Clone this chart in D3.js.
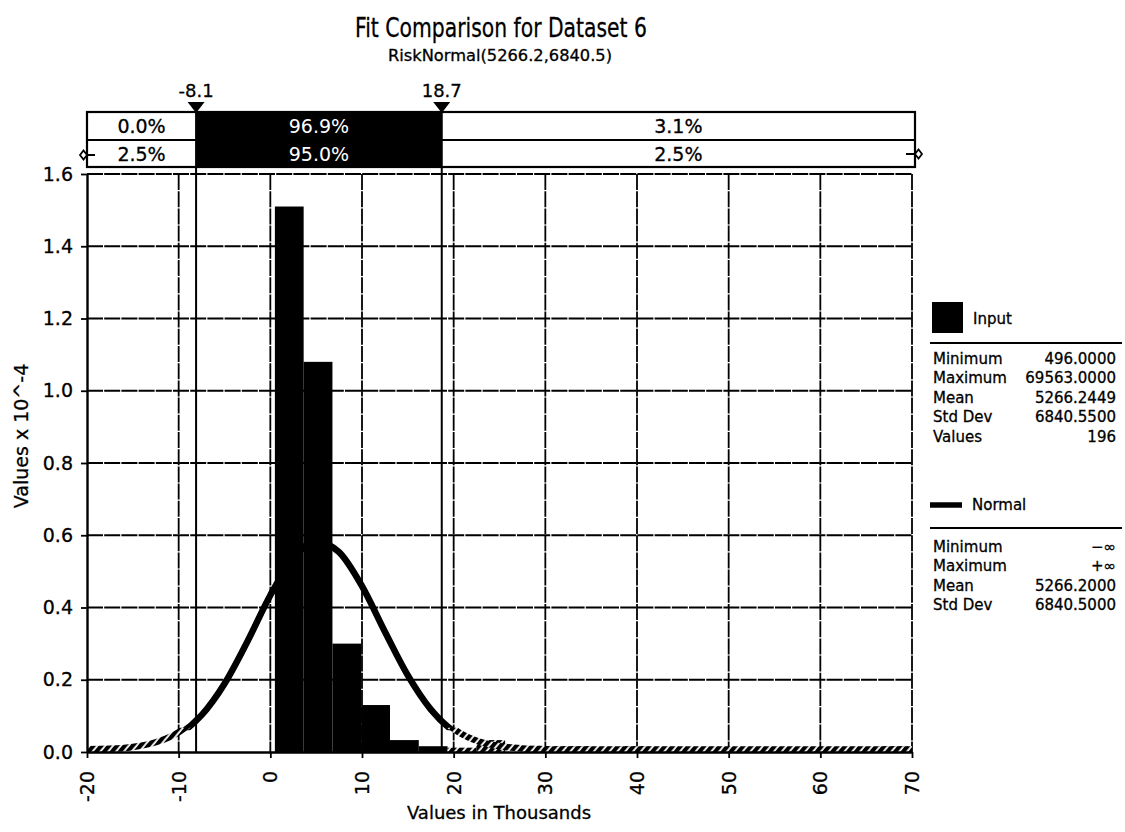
<!DOCTYPE html>
<html>
<head>
<meta charset="utf-8">
<script src="https://cdn.jsdelivr.net/npm/d3@7"></script>
<style>
  body { margin: 0; background: #fff; }
  text { font-family: "DejaVu Sans", Verdana, sans-serif; fill: #000; stroke: #000; stroke-width: 0.3px; }
</style>
</head>
<body>
<div id="chart"></div>
<script>
// histogram of the input (values in thousands, density x 10^-4)
var binEdges = [0.496, 3.635, 6.775, 9.914, 13.054, 16.193, 19.332, 22.472, 25.611, 28.750,
                31.890, 35.029, 38.168, 41.308, 44.447, 47.586, 50.726, 53.865, 57.004,
                60.144, 63.283, 66.423, 69.563];
var binValues = [1.51, 1.08, 0.30, 0.13, 0.033, 0.016, 0.012, 0.033, 0, 0.016, 0.016,
                 0, 0.016, 0, 0, 0, 0, 0, 0, 0, 0, 0.016];

// fitted normal curve
var normX = [-20, -17.5, -15, -12.5, -10, -7.5, -5, -2.5, 0, 2.5, 5, 7.5, 10, 12.5, 15, 17.5,
             20, 22.5, 25, 27.5, 30, 32.5, 35, 37.5, 40, 42.5, 45, 47.5, 50, 52.5, 55, 57.5,
             60, 62.5, 65, 67.5, 70];
var normY = [0.001, 0.002, 0.007, 0.020, 0.048, 0.102, 0.189, 0.306, 0.434, 0.537, 0.583,
             0.553, 0.459, 0.333, 0.212, 0.118, 0.057, 0.024, 0.009, 0.003, 0.001, 0, 0, 0,
             0, 0, 0, 0, 0, 0, 0, 0, 0, 0, 0, 0, 0];

var xTicks = [-20, -10, 0, 10, 20, 30, 40, 50, 60, 70];
var yTicks = [0, 0.2, 0.4, 0.6, 0.8, 1.0, 1.2, 1.4, 1.6];

// delimiters and the percentages in the bar above the plot
var delimiters = [-8.1, 18.7];
var delimLabels = ["-8.1", "18.7"];
var fitPct = ["0.0%", "96.9%", "3.1%"];
var inputPct = ["2.5%", "95.0%", "2.5%"];

var inputStats = [["Minimum", "496.0000"], ["Maximum", "69563.0000"], ["Mean", "5266.2449"],
                  ["Std Dev", "6840.5500"], ["Values", "196"]];
var normalStats = [["Minimum", "\u2212\u221E"], ["Maximum", "+\u221E"], ["Mean", "5266.2000"],
                   ["Std Dev", "6840.5000"]];

var W = 1125, H = 832;
var margin = {top: 174, left: 87, right: 213, bottom: 80};
var width = W - margin.left - margin.right,
    height = H - margin.top - margin.bottom;

var svg = d3.select("#chart").append("svg")
    .attr("width", W)
    .attr("height", H);

var defs = svg.append("defs");
var hatch = defs.append("pattern")
    .attr("id", "hatch")
    .attr("patternUnits", "userSpaceOnUse")
    .attr("width", 6).attr("height", 6)
    .attr("patternTransform", "rotate(40)");
hatch.append("rect").attr("width", 6).attr("height", 6).attr("fill", "#fff");
hatch.append("rect").attr("width", 4.2).attr("height", 6).attr("fill", "#000");

var xScale = d3.scaleLinear().domain([-20, 70]).range([0, width]);
var yScale = d3.scaleLinear().domain([0, 1.6]).range([height, 0]);

// titles
svg.append("text")
    .attr("x", 501).attr("y", 37)
    .attr("text-anchor", "middle")
    .attr("textLength", 292).attr("lengthAdjust", "spacingAndGlyphs")
    .style("font-size", "26px")
    .text("Fit Comparison for Dataset 6");

svg.append("text")
    .attr("x", 500).attr("y", 61)
    .attr("text-anchor", "middle")
    .attr("textLength", 224).attr("lengthAdjust", "spacingAndGlyphs")
    .style("font-size", "15.5px")
    .text("RiskNormal(5266.2,6840.5)");

var g = svg.append("g")
    .attr("transform", "translate(" + margin.left + "," + margin.top + ")");

// grid
g.selectAll(".hgrid")
    .data(yTicks.filter(function (d) { return d > 0; }))
    .enter().append("line")
    .attr("x1", 0).attr("x2", width)
    .attr("y1", function (d) { return yScale(d); })
    .attr("y2", function (d) { return yScale(d); })
    .attr("stroke", "#000").attr("stroke-width", 1.8)
    .attr("stroke-dasharray", "16,1.2");

g.selectAll(".vgrid")
    .data(xTicks.filter(function (d) { return d > -20; }))
    .enter().append("line")
    .attr("x1", function (d) { return xScale(d); })
    .attr("x2", function (d) { return xScale(d); })
    .attr("y1", 0).attr("y2", height)
    .attr("stroke", "#000").attr("stroke-width", 1.8)
    .attr("stroke-dasharray", "16,1.2");

// histogram
var bins = binValues.map(function (v, i) {
    return {lo: binEdges[i], hi: binEdges[i + 1], value: v};
}).filter(function (d) { return d.value > 0; });

g.selectAll(".bar")
    .data(bins)
    .enter().append("rect")
    .attr("class", "bar")
    .attr("x", function (d) { return xScale(d.lo); })
    .attr("width", function (d) { return xScale(d.hi) - xScale(d.lo); })
    .attr("y", function (d) { return yScale(d.value); })
    .attr("height", function (d) { return height - yScale(d.value); })
    .attr("fill", function (d) { return d.lo > 19 ? "url(#hatch)" : "#000"; });

// normal curve: solid above, hatched where it lies along the base
var cut = yScale(0.06);
defs.append("clipPath").attr("id", "clipTop")
    .append("rect").attr("x", -10).attr("y", -10).attr("width", width + 20).attr("height", cut + 10);
defs.append("clipPath").attr("id", "clipBase")
    .append("rect").attr("x", 0).attr("y", cut).attr("width", width).attr("height", height - cut + 10);

var line = d3.line()
    .x(function (d) { return xScale(d[0]); })
    .y(function (d) { return yScale(d[1]); })
    .curve(d3.curveMonotoneX);
var pts = normX.map(function (d, i) { return [d, normY[i]]; });

g.append("path")
    .datum(pts)
    .attr("d", line)
    .attr("fill", "none")
    .attr("stroke", "#000").attr("stroke-width", 6.5)
    .attr("clip-path", "url(#clipTop)");
g.append("path")
    .datum(pts)
    .attr("d", line)
    .attr("transform", "translate(0,-2.5)")
    .attr("fill", "none")
    .attr("stroke", "url(#hatch)").attr("stroke-width", 6.5)
    .attr("clip-path", "url(#clipBase)");

// delimiter bar above plot
var rowTop = 112 - margin.top, rowMid = 140 - margin.top, rowBot = 167 - margin.top;
var boxRight = width + 3;
var segs = [0, xScale(delimiters[0]), xScale(delimiters[1]), boxRight];

g.append("rect")
    .attr("x", segs[1]).attr("y", rowTop)
    .attr("width", segs[2] - segs[1]).attr("height", rowBot - rowTop)
    .attr("fill", "#000");
g.append("rect")
    .attr("x", 0).attr("y", rowTop)
    .attr("width", boxRight).attr("height", rowBot - rowTop)
    .attr("fill", "none").attr("stroke", "#000").attr("stroke-width", 2.2);
g.append("line")
    .attr("x1", 0).attr("x2", boxRight)
    .attr("y1", rowMid).attr("y2", rowMid)
    .attr("stroke", "#000").attr("stroke-width", 2.2);

[fitPct, inputPct].forEach(function (row, r) {
    g.selectAll(".pct" + r)
        .data(row)
        .enter().append("text")
        .attr("x", function (d, i) { return (segs[i] + segs[i + 1]) / 2; })
        .attr("y", (r === 0 ? 133 : 161) - margin.top)
        .attr("text-anchor", "middle")
        .style("font-size", "19px")
        .style("fill", function (d, i) { return i === 1 ? "#fff" : "#000"; })
        .style("stroke", function (d, i) { return i === 1 ? "none" : "#000"; })
        .text(function (d) { return d; });
});

// end arrows on second row
g.append("path")
    .attr("d", "M-1," + (rowMid + 15) + "h9")
    .attr("stroke", "#000").attr("stroke-width", 2);
g.append("path")
    .attr("d", "M-7," + (rowMid + 15) + "l3.5,-4.5l3.5,4.5l-3.5,4.5z")
    .attr("fill", "#fff").attr("stroke", "#000").attr("stroke-width", 1.8);
g.append("path")
    .attr("d", "M" + (boxRight - 9) + "," + (rowMid + 14) + "h9")
    .attr("stroke", "#000").attr("stroke-width", 2);
g.append("path")
    .attr("d", "M" + (boxRight + 7) + "," + (rowMid + 14) + "l-3.5,-4.5l-3.5,4.5l3.5,4.5z")
    .attr("fill", "#fff").attr("stroke", "#000").attr("stroke-width", 1.8);

// delimiter lines, triangles and labels
g.selectAll(".dline")
    .data(delimiters)
    .enter().append("line")
    .attr("x1", function (d) { return xScale(d); })
    .attr("x2", function (d) { return xScale(d); })
    .attr("y1", rowTop).attr("y2", height)
    .attr("stroke", "#000").attr("stroke-width", 2);

g.selectAll(".dtri")
    .data(delimiters)
    .enter().append("path")
    .attr("d", function (d) {
        var cx = xScale(d);
        return "M" + (cx - 8.5) + "," + (rowTop - 10) + "h17l-8.5,11z";
    })
    .attr("fill", "#000");

g.selectAll(".dlab")
    .data(delimiters)
    .enter().append("text")
    .attr("x", function (d) { return xScale(d); })
    .attr("y", 97 - margin.top)
    .attr("text-anchor", "middle")
    .style("font-size", "18px")
    .text(function (d, i) { return delimLabels[i]; });

// axes
var xAxis = d3.axisBottom(xScale).tickValues(xTicks).tickSize(6).tickSizeOuter(0)
    .tickFormat(function (d) { return String(d); });
var yAxis = d3.axisLeft(yScale).tickValues(yTicks).tickSize(6).tickSizeOuter(0)
    .tickFormat(d3.format(".1f"));

var gx = g.append("g")
    .attr("transform", "translate(0," + height + ")")
    .call(xAxis);
gx.select(".domain").attr("stroke-width", 2.4);
gx.selectAll(".tick line").attr("stroke-width", 1.8);
gx.selectAll("text")
    .attr("transform", "rotate(-90)")
    .attr("x", -19).attr("y", 0).attr("dy", ".35em")
    .style("text-anchor", "end")
    .style("font-size", "19px")
    .style("font-family", "DejaVu Sans");

var gy = g.append("g").call(yAxis);
gy.select(".domain").attr("stroke-width", 2.4);
gy.selectAll(".tick line").attr("stroke-width", 1.8);
gy.selectAll("text")
    .attr("x", -14)
    .style("font-size", "19px")
    .style("font-family", "DejaVu Sans");

svg.append("text")
    .attr("transform", "translate(28,436) rotate(-90)")
    .attr("text-anchor", "middle")
    .style("font-size", "19px")
    .text("Values x 10^-4");

svg.append("text")
    .attr("x", 499).attr("y", 819)
    .attr("text-anchor", "middle")
    .style("font-size", "18px")
    .text("Values in Thousands");

// legend
var leg = svg.append("g");
leg.append("rect").attr("x", 932).attr("y", 302).attr("width", 31).attr("height", 31).attr("fill", "#000");
leg.append("text").attr("x", 973).attr("y", 324).style("font-size", "15px").text("Input");
leg.append("line").attr("x1", 930).attr("x2", 1122).attr("y1", 343).attr("y2", 343)
    .attr("stroke", "#000").attr("stroke-width", 2);

function statRows(rows, y0) {
    var r = leg.selectAll(null).data(rows).enter().append("g")
        .attr("transform", function (d, i) { return "translate(0," + (y0 + i * 19.4) + ")"; });
    r.append("text").attr("x", 933).style("font-size", "15px").text(function (d) { return d[0]; });
    r.append("text").attr("x", 1116).attr("text-anchor", "end").style("font-size", "15px")
        .text(function (d) { return d[1]; });
}
statRows(inputStats, 364);

leg.append("line").attr("x1", 930).attr("x2", 962).attr("y1", 505).attr("y2", 505)
    .attr("stroke", "#000").attr("stroke-width", 5.5);
leg.append("text").attr("x", 972).attr("y", 510).style("font-size", "15px").text("Normal");
leg.append("line").attr("x1", 930).attr("x2", 1122).attr("y1", 528).attr("y2", 528)
    .attr("stroke", "#000").attr("stroke-width", 2);
statRows(normalStats, 552);
</script>
</body>
</html>
